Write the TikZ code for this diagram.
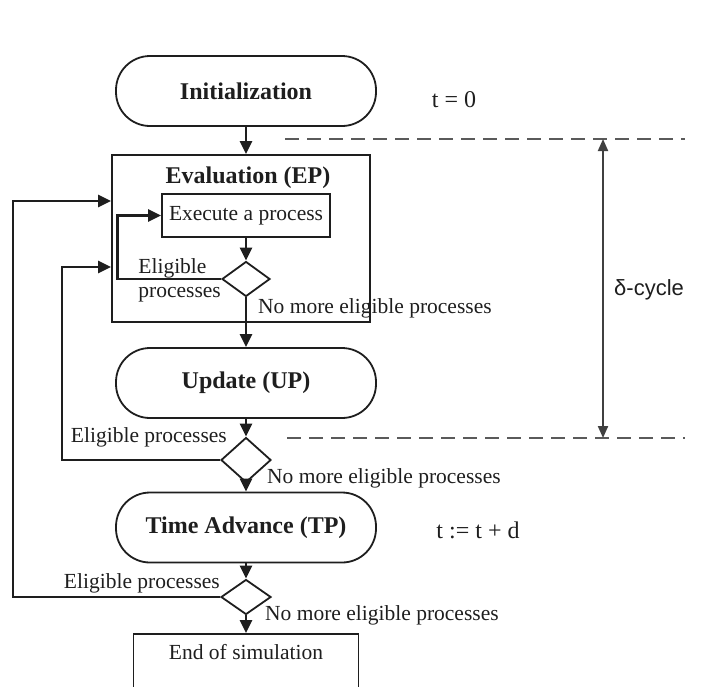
\documentclass[tikz,border=0pt]{standalone}
\usepackage{fontspec}
\setmainfont{Liberation Serif}
\newfontfamily\cyclefont{Liberation Sans}
\usepackage{xcolor}
\usepackage{tikz}
\usetikzlibrary{arrows.meta, positioning, calc, shapes.geometric}
\definecolor{flowblack}{RGB}{30, 30, 30}
\definecolor{flowgray}{RGB}{90, 90, 90}

\begin{document}
\begin{tikzpicture}[x=1pt, y=-1pt, >={Triangle[length=13pt, width=12pt]},
  every node/.style={font=\fontsize{21.5}{24}\selectfont, text=flowblack},
  pill/.style={draw=flowblack, line width=1.8pt, rounded corners=34pt, minimum width=260pt, minimum height=70pt, font=\fontsize{24}{28}\selectfont\bfseries},
  stagebox/.style={draw=flowblack, line width=1.8pt},
  testnode/.style={draw=flowblack, line width=1.8pt, diamond, inner sep=0pt},
  flow/.style={->, line width=2.8pt, draw=flowblack},
  marker/.style={dash pattern=on 14pt off 8pt, line width=1.8pt, flowgray},
  plain/.style={inner sep=0pt},
  timelabel/.style={inner sep=0pt, font=\fontsize{24}{28}\selectfont}]
  \useasboundingbox (0,0) rectangle (727,686);
  \clip (0,0) rectangle (727,686);

  % main column
  \node[pill] (init) at (246,91) {Initialization};
  \node[timelabel] (tzero) at (454,100) {t = 0};
  \node[stagebox, minimum width=258pt, minimum height=167pt] (eval) at (241,238.5) {};
  \node[plain, font=\fontsize{24}{28}\selectfont\bfseries] (evaltitle) at (248,178) {Evaluation (EP)};
  \node[stagebox, minimum width=168pt, minimum height=43pt] (exec) at (246,215.5) {Execute a process};
  \node[testnode, minimum width=48pt, minimum height=35pt] (d1) at (246,279) {};
  \node[pill] (upd) at (246,383) {Update (UP)};
  \node[testnode, minimum width=50pt, minimum height=45pt] (d2) at (246,460) {};
  \node[pill] (tadv) at (246,527.5) {Time Advance (TP)};
  \node[timelabel] (tnext) at (478,530) {t := t + d};
  \node[testnode, minimum width=50pt, minimum height=35pt] (d3) at (246,597) {};
  \node[stagebox, anchor=north, minimum width=225pt, minimum height=80pt] (endbox) at (246,633) {};
  \node[plain] (endtext) at (246,652) {End of simulation};

  % labels at the decisions
  \node[plain, anchor=east, align=left] (elig1) at (221,280) {Eligible\\processes};
  \node[plain, anchor=west] (nomore1) at (258,308) {No more eligible processes};
  \node[plain, anchor=east] (elig2) at (227,437) {Eligible processes};
  \node[plain, anchor=west] (nomore2) at (267,478) {No more eligible processes};
  \node[plain, anchor=east] (elig3) at (220,583) {Eligible processes};
  \node[plain, anchor=west] (nomore3) at (265,615) {No more eligible processes};

  % entry points on the evaluation box
  \coordinate (in1) at ([yshift=37.5pt]eval.west);
  \coordinate (in2) at ([yshift=-28.5pt]eval.west);

  \draw[flow] (init.south) -- (init.south |- eval.north);
  \draw[flow] (exec.south) -- (d1.north);
  \draw[flow] (d1.south) -- (upd.north);
  \draw[flow] (upd.south) -- (d2.north);
  \draw[flow] (d2.south) -- (tadv.north);
  \draw[flow] (tadv.south) -- (d3.north);
  \draw[flow] (d3.south) -- (endbox.north);

  % loops back
  \draw[flow] (d1.west) -- ++(-104,0) |- (exec.west);
  \draw[flow] (d2.west) -- (62,460) |- (in2);
  \draw[flow] (d3.west) -- (13,597) |- (in1);

  % delta cycle
  \coordinate (cyctop) at (603,139);
  \coordinate (cycbot) at (603,438);
  \draw[marker] (285,139) -- (685,139);
  \draw[marker] (287,438) -- (685,438);
  \draw[<->, line width=2pt, draw=flowblack!85, >={Triangle[length=12pt, width=10pt]}] (cyctop) -- (cycbot);
  \node[plain, anchor=west, font=\fontsize{22}{26}\selectfont\cyclefont] (cyclabel) at (614,290) {δ-cycle};
\end{tikzpicture}
\end{document}
